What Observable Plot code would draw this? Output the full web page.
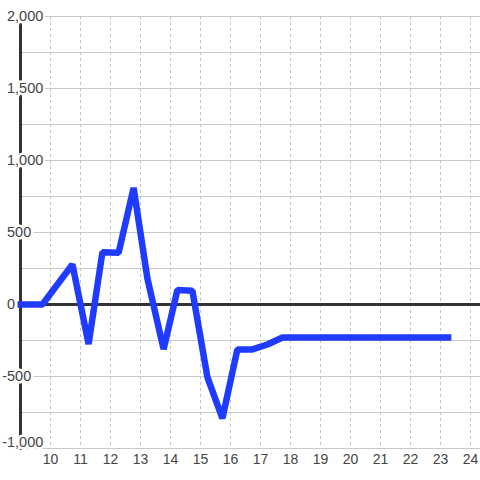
<!DOCTYPE html>
<html>
<head>
<meta charset="utf-8">
<script src="https://cdn.jsdelivr.net/npm/d3@7"></script>
<script src="https://cdn.jsdelivr.net/npm/@observablehq/plot@0.6"></script>
<style>
  html, body { margin: 0; padding: 0; background: #ffffff; }
  #chart svg { display: block; }
</style>
</head>
<body>
<div id="chart"></div>
<script>
const times = [8.9, 9.73, 10.73, 11.27, 11.73, 12.27, 12.77, 13.23, 13.77, 14.23, 14.73, 15.23, 15.73, 16.23, 16.73, 17.23, 17.73, 23.36];
const values = [0, 0, 278, -275, 362, 360, 810, 180, -310, 100, 95, -505, -790, -312, -312, -278, -229, -229];
const xTicks = [10, 11, 12, 13, 14, 15, 16, 17, 18, 19, 20, 21, 22, 23, 24];
const yTicks = [-1000, -500, 0, 500, 1000, 1500, 2000];
const yGrid = [-1000, -750, -500, -250, 0, 250, 500, 750, 1000, 1250, 1500, 1750, 2000];
const xDomain = [9, 24.333];
const yDomain = [-1000, 2000];

const data = times.map((t, i) => ({t, v: values[i]}));
const fmt = v => v.toLocaleString("en-US");
const font = "Liberation Sans, Arial, sans-serif";
const labelStyle = {frameAnchor: "left", textAnchor: "start", lineAnchor: "middle", fontSize: 14.5, fill: "#444", stroke: "#ffffff", strokeWidth: 5, strokeLinejoin: "miter", paintOrder: "stroke"};

const chart = Plot.plot({
  width: 480,
  height: 480,
  marginLeft: 20,
  marginRight: 0,
  marginTop: 16,
  marginBottom: 32,
  style: {background: "#ffffff", fontFamily: font, overflow: "visible"},
  x: {domain: xDomain, axis: null},
  y: {domain: yDomain, axis: null},
  marks: [
    Plot.ruleY(yGrid, {stroke: "#c8c8c8", strokeWidth: 1}),
    Plot.ruleX(xTicks, {stroke: "#c4c4c4", strokeWidth: 1, strokeDasharray: "3,3"}),
    Plot.frame({anchor: "left", stroke: "#333333", strokeWidth: 3}),
    Plot.text(yTicks.filter(d => d >= 0), {y: d => d, text: d => fmt(d), dx: -13.5, ...labelStyle}),
    Plot.text(yTicks.filter(d => d < 0 && d > -1000), {y: d => d, text: d => fmt(d), dx: -18.3, ...labelStyle}),
    Plot.text(yTicks.filter(d => d === -1000), {y: d => d, text: d => fmt(d), dx: -18.3, dy: -6, ...labelStyle}),
    Plot.ruleY([0], {stroke: "#333333", strokeWidth: 3}),
    Plot.line(data, {x: "t", y: "v", stroke: "#1f3bff", strokeWidth: 6.5, strokeLinejoin: "miter", strokeLinecap: "butt"}),
    Plot.axisX(xTicks, {tickSize: 0, tickPadding: 6, fontSize: 14, color: "#444", label: null, tickFormat: d => String(d)})
  ]
});
document.getElementById("chart").appendChild(chart);
</script>
</body>
</html>
